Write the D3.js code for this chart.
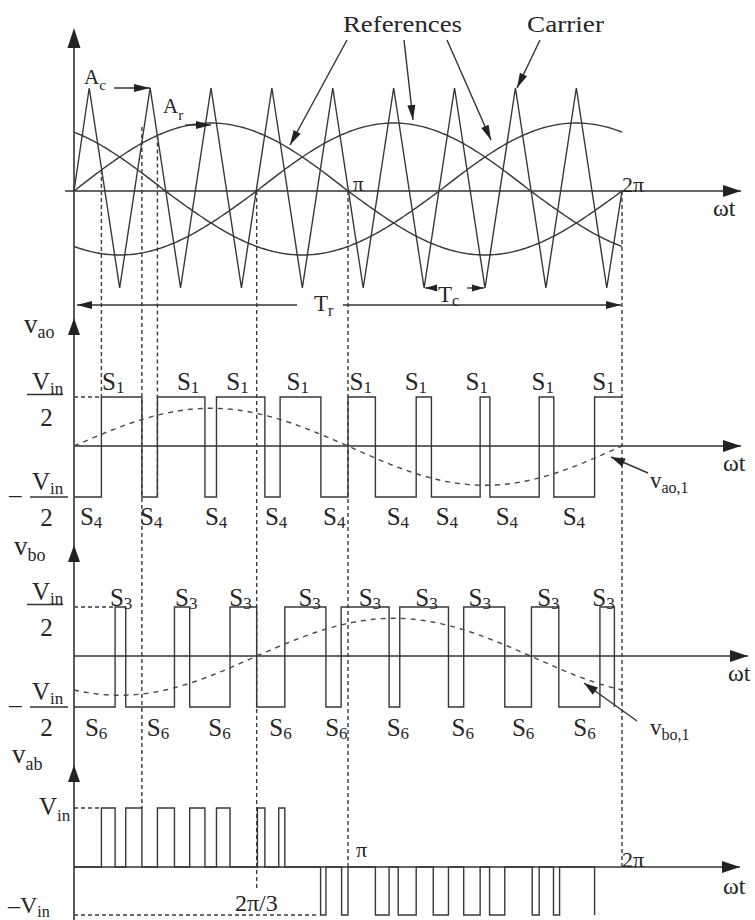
<!DOCTYPE html>
<html>
<head>
<meta charset="utf-8">
<script src="https://cdn.jsdelivr.net/npm/d3@7"></script>
<style>
  body { margin: 0; background: #fff; }
  text { font-family: "Liberation Serif", "Times New Roman", serif; fill: #262626; }
</style>
</head>
<body>
<svg id="chart" width="755" height="920"></svg>
<script>
// ---- Carrier (triangle) vertices: angle in degrees, normalised level ----
const carrierAngles = [0, 10, 30, 50, 70, 90, 110, 130, 150, 170, 190, 210, 230, 250, 270, 290, 310, 330, 350, 360];
const carrierLevels = [0, 1, -1, 1, -1, 1, -1, 1, -1, 1, -1, 1, -1, 1, -1, 1, -1, 1, -1, 0];

// ---- Three-phase sinusoidal references (phase in degrees, amplitude vs carrier) ----
const refPhases = [0, -120, 120];
const refAmplitude = 0.66;

// ---- Pole voltage v_ao: switching angles and level after each angle ----
const vaoAngles = [0, 18, 44.6, 54.8, 86, 93.6, 125.4, 135.4, 162.2, 180, 198, 224.8, 234.8, 266.8, 273.2, 305.6, 315.2, 342, 360];
const vaoLevels = [-1, 1, -1, 1, -1, 1, -1, 1, -1, 1, -1, 1, -1, 1, -1, 1, -1, 1, 1];

// ---- Pole voltage v_bo ----
const vboAngles = [0, 27, 34, 66, 76, 102.5, 120, 138.5, 165.5, 175.5, 207, 214, 246, 256, 283, 300.5, 318.5, 345.5, 355];
const vboLevels = [-1, 1, -1, 1, -1, 1, -1, 1, -1, 1, -1, 1, -1, 1, -1, 1, -1, 1, -1];

// ---- Line voltage v_ab ----
const vabAngles = [0, 18, 27, 34, 44.6, 54.8, 66, 76, 86, 93.6, 102.5, 120.5, 125.4, 134.5, 138.5,
                   162, 165.5, 175.8, 180, 198, 207, 213, 224.8, 236, 246, 256, 266.8, 273, 283, 301, 305.6, 315, 319, 342];
const vabLevels = [0, 1, 0, 1, 0, 1, 0, 1, 0, 1, 0, 1, 0, 1, 0,
                   -1, 0, -1, 0, -1, 0, -1, 0, -1, 0, -1, 0, -1, 0, -1, 0, -1, 0, -1];

// ---- Fundamental components of the pole voltages ----
const fundPhases = [0, -120];
const fundAmplitude = 0.77;

// ---- Switch labels over each pulse (angle of label's left edge) ----
const s1Angles = [18.4, 67.6, 100, 139.6, 181, 217.2, 257.2, 300.6, 340.5];
const s4Angles = [3.9, 43.4, 86, 125.4, 163.6, 205.4, 237.6, 277, 321];
const s3Angles = [23.6, 66.4, 102, 147.4, 187, 224.2, 259.2, 304.3, 340.5];
const s6Angles = [7.2, 47.8, 88.2, 128.3, 165, 205.4, 248, 287.7, 328];

const svg = d3.select("#chart");
const ink = "#383838";

const x = d3.scaleLinear().domain([0, 360]).range([74, 622]);
const yTop = d3.scaleLinear().domain([-1, 0, 1]).range([288, 191, 88]);
const yAo = d3.scaleLinear().domain([-1, 0, 1]).range([497, 446, 397]);
const yBo = d3.scaleLinear().domain([-1, 0, 1]).range([707, 656, 607]);
const yAb = d3.scaleLinear().domain([-1, 0, 1]).range([915, 867, 808]);

// filled arrowhead with its tip at (tx, ty), pointing along angle (radians)
function head(tx, ty, ang, len, wid) {
  const c = Math.cos(ang), s = Math.sin(ang);
  const bx = tx - c * len, by = ty - s * len;
  const px = -s * wid / 2, py = c * wid / 2;
  svg.append("path")
    .attr("d", `M${tx},${ty}L${bx + px},${by + py}L${bx - px},${by - py}Z`)
    .attr("fill", "#222");
}
function arrow(x1, y1, x2, y2, len, wid, w) {
  svg.append("line").attr("x1", x1).attr("y1", y1).attr("x2", x2).attr("y2", y2)
    .attr("stroke", "#333").attr("stroke-width", w || 1.4);
  head(x2, y2, Math.atan2(y2 - y1, x2 - x1), len, wid);
}
function dashed(x1, y1, x2, y2) {
  svg.append("line").attr("x1", x1).attr("y1", y1).attr("x2", x2).attr("y2", y2)
    .attr("stroke", "#3a3a3a").attr("stroke-width", 1.4).attr("stroke-dasharray", "4,3");
}
// text with optional subscript
function label(tx, ty, main, sub, size, subSize, subDrop) {
  const t = svg.append("text").attr("x", tx).attr("y", ty).attr("font-size", size);
  t.append("tspan").text(main);
  if (sub) t.append("tspan").attr("font-size", subSize).attr("dy", subDrop).text(sub);
  return t;
}

// ---------- axes ----------
svg.append("line").attr("x1", 74).attr("y1", 920).attr("x2", 74).attr("y2", 40)
  .attr("stroke", "#333").attr("stroke-width", 1.6);
head(74, 28, -Math.PI / 2, 20, 13);
head(74, 318, -Math.PI / 2, 17, 12);
head(74, 545, -Math.PI / 2, 17, 12);
head(74, 765, -Math.PI / 2, 17, 12);

arrow(65, yTop(0), 741, yTop(0), 18, 12, 1.6);
arrow(74, yAo(0), 741, yAo(0), 18, 12, 1.6);
arrow(74, yBo(0), 748, yBo(0), 18, 12, 1.6);
arrow(74, yAb(0), 740, yAb(0), 18, 12, 1.6);

// ---------- top panel: carrier and references ----------
const carrierPts = d3.zip(carrierAngles, carrierLevels);
svg.append("path").datum(carrierPts)
  .attr("d", d3.line().x(d => x(d[0])).y(d => yTop(d[1])))
  .attr("fill", "none").attr("stroke", ink).attr("stroke-width", 1.4);

const rad = Math.PI / 180;
const theta = d3.range(0, 360.01, 1.5);
refPhases.forEach(ph => {
  svg.append("path").datum(theta)
    .attr("d", d3.line().x(t => x(t)).y(t => yTop(refAmplitude * Math.sin((t + ph) * rad))))
    .attr("fill", "none").attr("stroke", ink).attr("stroke-width", 1.4);
});

// ---------- pulse trains ----------
function pulses(angles, levels, y) {
  svg.append("path").datum(d3.zip(angles, levels))
    .attr("d", d3.line().x(d => x(d[0])).y(d => y(d[1])).curve(d3.curveStepAfter))
    .attr("fill", "none").attr("stroke", ink).attr("stroke-width", 1.4);
}
pulses(vaoAngles, vaoLevels, yAo);
pulses(vboAngles, vboLevels, yBo);
pulses(vabAngles, vabLevels, yAb);

// fundamentals (dashed)
[yAo, yBo].forEach((y, i) => {
  svg.append("path").datum(theta)
    .attr("d", d3.line().x(t => x(t)).y(t => y(fundAmplitude * Math.sin((t + fundPhases[i]) * rad))))
    .attr("fill", "none").attr("stroke", "#4a4a4a").attr("stroke-width", 1.4)
    .attr("stroke-dasharray", "5,5");
});

// ---------- dashed guides ----------
dashed(x(18), yTop(refAmplitude * Math.sin(18 * rad)), x(18), yAo(1));
dashed(x(44.6), 127, x(44.6), yAb(1));
dashed(x(54.8), yTop(refAmplitude * Math.sin(54.8 * rad)), x(54.8), yAo(-1));
dashed(x(120), yTop(0), x(120), 890);
dashed(x(180), yTop(0), x(180), yAb(0));
dashed(x(360), yTop(0), x(360), yAb(0));
dashed(74, yAo(1), x(18), yAo(1));
dashed(74, yBo(1), x(27), yBo(1));
dashed(74, yAb(1), x(18), yAb(1));
dashed(74, yAb(-1), x(160), yAb(-1));

// ---------- period markers ----------
arrow(297, 305, 77, 305, 15, 8);
arrow(343, 305, 621, 305, 15, 8);
arrow(437, 288, x(230) + 1, 288, 12, 7);
arrow(467, 288, x(270) - 1, 288, 12, 7);

// ---------- annotation arrows ----------
arrow(347, 40, 290, 145, 15, 8);
arrow(404, 40, 413, 120, 15, 8);
arrow(447, 40, 491, 140, 15, 8);
arrow(540, 40, 517, 88, 15, 8);
arrow(114, 88, 150, 88, 16, 8);
arrow(185, 125, 211, 125, 15, 8);

// ---------- text ----------
svg.append("text").attr("x", 343).attr("y", 32).attr("font-size", 23)
  .attr("textLength", 119).attr("lengthAdjust", "spacingAndGlyphs").text("References");
svg.append("text").attr("x", 527).attr("y", 32).attr("font-size", 23)
  .attr("textLength", 77).attr("lengthAdjust", "spacingAndGlyphs").text("Carrier");

label(84, 84, "A", "c", 21, 15, 6);
label(163, 113, "A", "r", 21, 15, 7);
label(353, 191, "π", null, 21);
label(622, 192, "2π", null, 22);
label(314, 311, "T", "r", 23, 16, 5);
label(438, 302, "T", "c", 23, 16, 4);

const omegaPos = [[713, 216], [723, 471], [728, 681], [723, 894]];
omegaPos.forEach(p => label(p[0], p[1], "ωt", null, 24));

// panel titles
label(24, 333, "v", "ao", 27, 18, 5);
label(14, 555, "v", "bo", 27, 18, 6);
label(12, 763, "v", "ab", 27, 18, 7);

// fraction tick labels ±Vin/2
function halfLabel(yLine, neg) {
  label(32, yLine - 7, "V", "in", 25, 17, 4);
  svg.append("line").attr("x1", neg ? 30 : 27).attr("x2", neg ? 68 : 63)
    .attr("y1", yLine - (neg ? 0 : 2.5)).attr("y2", yLine - (neg ? 0 : 2.5))
    .attr("stroke", "#333").attr("stroke-width", 1.5);
  svg.append("text").attr("x", 46.5).attr("y", yLine + 29).attr("font-size", 25)
    .attr("text-anchor", "middle").text("2");
  if (neg) svg.append("text").attr("x", 9).attr("y", yLine + 6).attr("font-size", 25).text("–");
}
halfLabel(yAo(1), false);
halfLabel(yAo(-1), true);
halfLabel(yBo(1), false);
halfLabel(yBo(-1), true);

label(39, 815, "V", "in", 25, 17, 6);
label(8, 913, "–V", "in", 24, 16, 4);
label(235, 911, "2π/3", null, 24);
label(356, 857, "π", null, 22);
label(622, 867, "2π", null, 22);

// switch labels
s1Angles.forEach(a => label(x(a), 390, "S", "1", 25, 17, 3));
s4Angles.forEach(a => label(x(a), 525, "S", "4", 25, 17, 3));
s3Angles.forEach(a => label(x(a), 606, "S", "3", 25, 17, 3));
s6Angles.forEach(a => label(x(a), 736, "S", "6", 25, 17, 3));

// fundamental callouts
arrow(648, 473, 611, 457, 14, 9);
label(650, 488, "v", "ao,1", 23, 16, 5);
arrow(637, 721, 584, 683, 14, 9);
label(650, 735, "v", "bo,1", 23, 16, 5);
</script>
</body>
</html>
